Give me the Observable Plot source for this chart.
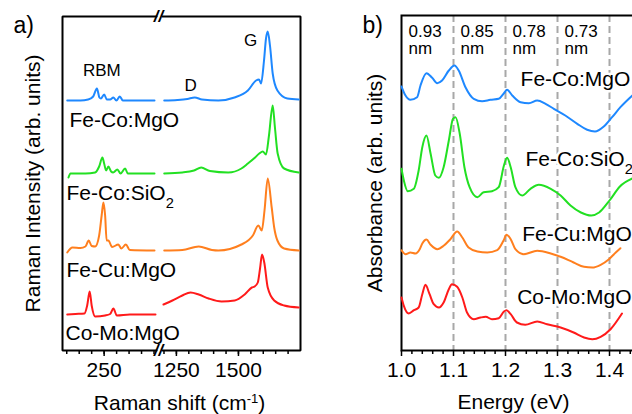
<!DOCTYPE html>
<html><head><meta charset="utf-8">
<script src="https://cdn.jsdelivr.net/npm/d3@7"></script>
<script src="https://cdn.jsdelivr.net/npm/@observablehq/plot@0.6"></script>
<style>
html,body{margin:0;padding:0;overflow:hidden;background:#fff;}
#wrap{position:relative;width:632px;height:414px;overflow:hidden;}
#wrap svg{position:absolute;top:0;}
</style></head><body><div id="wrap"></div>
<script>
// ---------- Panel a: Raman spectra (Raman shift cm-1, intensity arb. units) ----------
const ramanSamples = ["Fe-Co:MgO", "Fe-Co:SiO2", "Fe-Cu:MgO", "Co-Mo:MgO"];
const ramanLow = [
  [[102,250],[155,250],[186,251],[206,254],[221,262],[231,253],[237,252],[250,256],[261,251],[274,251],[287,253],[299,250],[313,254],[325,250],[353,250],[413,250],[452,250]],
  [[107,173],[115,177],[175,177],[214,178],[230,184],[243,193],[250,187],[258,180],[267,184],[278,179],[286,178],[303,181],[316,177],[334,182],[345,177],[393,177],[452,177]],
  [[102,98],[123,103],[155,102.5],[175,104],[188,110],[200,104.5],[214,104],[230,115],[240,135],[247,148],[254,135],[260,110],[267,110],[282,103.5],[307,106],[319,102],[337,106],[353,100.5],[452,100]],
  [[102,36],[135,36.5],[171,37],[182,45],[192,59],[200,45],[214,34],[254,35],[274,36.5],[287,42],[301,35],[353,36],[456,36]]
];
const ramanHigh = [
  [[1201,250],[1254,250.5],[1294,251.5],[1324,253],[1353,251],[1419,250],[1484,253],[1538,260],[1571,270],[1583,271],[1591,267],[1603,290],[1611,312],[1618,319],[1627,305],[1638,277],[1657,260],[1697,252],[1743,251]],
  [[1201,177],[1274,178],[1321,180],[1350,183],[1385,179.5],[1459,178],[1512,182],[1538,187],[1567,193],[1584,197],[1598,199],[1611,196],[1623,215],[1638,245],[1647,223],[1658,197],[1684,182],[1743,178]],
  [[1201,100],[1274,100.5],[1340,104],[1393,100.5],[1419,100],[1512,106],[1558,115],[1580,125],[1594,120],[1605,140],[1618,172],[1634,143],[1644,123],[1657,110],[1684,102],[1743,100]],
  [[1198,46],[1234,50],[1274,55],[1307,58],[1340,56],[1380,52],[1432,49],[1485,50],[1525,56],[1554,63],[1565,64],[1578,68],[1587,82],[1595,96],[1604,88],[1618,63],[1644,50],[1684,45],[1743,43]]
];
const ramanLowDomain = [83, 460];
const ramanHighDomain = [1194, 1750];
const ramanMinorTicks = [100,150,200,250,300,350,400,450,1200,1250,1300,1350,1400,1450,1500,1550,1600,1650,1700];
const ramanMajorTicks = [250, 1250, 1500];
const ramanPeakNames = ["RBM", "D", "G"];
const ramanPeakShift = [241, 1307, 1549];
const ramanPeakLevel = [280, 265, 310];
const ramanLabelShift = [111, 99, 99, 95];
const ramanLabelLevel = [230, 157, 80, 17];

// ---------- Panel b: absorbance spectra (energy eV, absorbance arb. units) ----------
const absSamples = ["Fe-Co:MgO", "Fe-Co:SiO2", "Fe-Cu:MgO", "Co-Mo:MgO"];
const absSpectra = [
  [[1.0,264],[1.0077,255],[1.017,250.7],[1.03,253.3],[1.0365,265],[1.048,277.3],[1.059,272.7],[1.0686,267.3],[1.078,270],[1.091,280],[1.102,285],[1.11,280],[1.123,263.3],[1.139,251.7],[1.155,249.3],[1.171,250.7],[1.187,251.7],[1.197,257.3],[1.203,260.7],[1.213,255],[1.229,248.3],[1.245,247.3],[1.261,250],[1.277,246.7],[1.293,241.7],[1.315,235],[1.338,226.7],[1.357,220.7],[1.372,219],[1.389,224],[1.405,233.3],[1.421,243.3],[1.444,255]],
  [[1.0,181.7],[1.0045,170],[1.012,159.3],[1.0237,161.7],[1.033,180],[1.04,203.3],[1.048,215],[1.056,196.7],[1.065,175],[1.072,172.7],[1.081,183.3],[1.091,210],[1.099,231.7],[1.104,233.3],[1.112,216.7],[1.121,183.3],[1.131,163.3],[1.146,153.3],[1.158,158.3],[1.174,159.3],[1.187,163.3],[1.197,185],[1.203,192.7],[1.21,183.3],[1.219,163.3],[1.232,155],[1.248,161.7],[1.264,165.7],[1.287,161.7],[1.306,155],[1.325,145],[1.345,138],[1.365,135],[1.38,138],[1.4,150],[1.42,164],[1.444,172]],
  [[1.0,100.3],[1.008,96.3],[1.017,98],[1.027,97],[1.035,101.3],[1.04,107],[1.048,111],[1.056,105.7],[1.069,101.3],[1.081,104.7],[1.094,111.3],[1.107,119],[1.117,113],[1.129,103],[1.146,99],[1.165,98],[1.184,100.3],[1.196,109.7],[1.202,115.7],[1.21,111.3],[1.219,101.3],[1.235,96.3],[1.261,99.7],[1.287,97],[1.306,93.7],[1.331,88],[1.351,83.7],[1.367,83],[1.383,85.7],[1.399,91.3],[1.412,98],[1.421,102.3]],
  [[1.0,53],[1.0045,44.7],[1.014,37],[1.024,40.3],[1.033,43],[1.04,56.3],[1.046,65.7],[1.054,56.3],[1.062,46.3],[1.072,43],[1.081,48],[1.091,61.3],[1.097,66.3],[1.107,63.7],[1.117,53],[1.126,38],[1.139,31.3],[1.152,33],[1.162,33.7],[1.174,31.3],[1.187,32.3],[1.197,39],[1.202,40.3],[1.21,36.3],[1.222,28],[1.238,25.7],[1.261,29],[1.28,26.3],[1.306,23],[1.331,18],[1.351,13],[1.367,11.3],[1.383,13.7],[1.402,21.3],[1.424,37]]
];
const energyDomain = [1.0, 1.45];
const energyMajorTicks = [1.0, 1.1, 1.2, 1.3, 1.4];
const energyMinorTicks = [1.02,1.04,1.06,1.08,1.12,1.14,1.16,1.18,1.22,1.24,1.26,1.28,1.32,1.34,1.36,1.38,1.42,1.44];
const diameterLines = [1.0, 1.1, 1.2, 1.3];
const diameterValues = ["0.93", "0.85", "0.78", "0.73"];
const dashedEnergies = [1.1, 1.2, 1.3, 1.4];
const absLabelEnergy = [1.229, 1.2385, 1.232, 1.2225];
const absLabelLevel = [271, 191, 116, 53];

const colors = ["#1e88ff", "#22e022", "#ff7f1e", "#ff1a1a"];
const FONT = "'Liberation Sans', Arial, Helvetica, sans-serif";
const wrap = document.getElementById("wrap");
const svgNS = "http://www.w3.org/2000/svg";

function rich(svg) {
  svg.querySelectorAll("text").forEach(t => {
    const s = t.textContent;
    let parts = null;
    if (s === "Raman shift (cm-1)") parts = [["Raman shift (cm"], ["-1", "super", "0.62em"], [")"]];
    if (s === "Fe-Co:SiO2") parts = [["Fe-Co:SiO"], ["2", "sub", "0.7em"]];
    if (!parts) return;
    while (t.firstChild) t.removeChild(t.firstChild);
    parts.forEach(([str, shift, size]) => {
      if (!shift) { t.appendChild(document.createTextNode(str)); return; }
      const ts = document.createElementNS(svgNS, "tspan");
      ts.setAttribute("baseline-shift", shift);
      ts.setAttribute("font-size", size);
      ts.textContent = str;
      t.appendChild(ts);
    });
  });
}

// ----- Panel a -----
const gapMid = (ramanLowDomain[1] + ramanHighDomain[0]) / 2;
const yTopA = 334;
const frameLow = [[ramanLowDomain[1], yTopA], [ramanLowDomain[0], yTopA], [ramanLowDomain[0], 0], [ramanLowDomain[1], 0]];
const frameHigh = [[ramanHighDomain[0], yTopA], [ramanHighDomain[1], yTopA], [ramanHighDomain[1], 0], [ramanHighDomain[0], 0]];
const plotA = Plot.plot({
  width: 320, height: 414,
  marginLeft: 62, marginRight: 20, marginTop: 16, marginBottom: 64,
  style: {fontFamily: FONT, fontSize: "21px", color: "#000", background: "transparent", overflow: "visible"},
  x: {type: "linear", domain: [...ramanLowDomain, ...ramanHighDomain], range: [62, 156, 162, 300]},
  y: {domain: [0, yTopA], axis: null},
  marks: [
    Plot.axisX({ticks: ramanMinorTicks, tickSize: 4, tickFormat: () => "", strokeWidth: 1.5, label: null}),
    Plot.axisX({ticks: ramanMajorTicks, tickSize: 6, tickPadding: 6, fontSize: 21, strokeWidth: 1.5, label: null, tickFormat: d3.format("d")}),
    Plot.line(frameLow, {stroke: "black", strokeWidth: 2, strokeLinejoin: "miter"}),
    Plot.line(frameHigh, {stroke: "black", strokeWidth: 2, strokeLinejoin: "miter"}),
    Plot.text([0, yTopA], {x: () => gapMid, y: d => d, text: () => "//", fontSize: 17, fontWeight: "bold", fontStyle: "italic", fill: "black", dx: -1}),
    ramanSamples.map((name, i) => [
      Plot.line(ramanLow[i], {stroke: colors[i], strokeWidth: 2, curve: "monotone-x"}),
      Plot.line(ramanHigh[i], {stroke: colors[i], strokeWidth: 2, curve: "monotone-x"})
    ]),
    Plot.text(ramanSamples, {x: (d, i) => ramanLabelShift[i], y: (d, i) => ramanLabelLevel[i], text: d => d, textAnchor: "start", fontSize: 21}),
    Plot.text(ramanPeakNames, {x: (d, i) => ramanPeakShift[i], y: (d, i) => ramanPeakLevel[i], text: d => d, fontSize: 17}),
    Plot.text(["Raman Intensity (arb. units)"], {frameAnchor: "left", dx: -29, rotate: -90, textAnchor: "middle", lineAnchor: "middle", fontSize: 21}),
    Plot.text(["Raman shift (cm-1)"], {frameAnchor: "bottom", dx: -2, dy: 53, textAnchor: "middle", lineAnchor: "middle", fontSize: 21}),
    Plot.text(["a)"], {frameAnchor: "top-left", dx: -49, dy: 9, textAnchor: "start", lineAnchor: "middle", fontSize: 23})
  ]
});
plotA.style.left = "0px";
rich(plotA);
wrap.appendChild(plotA);

// ----- Panel b -----
const plotB = Plot.plot({
  width: 320, height: 414,
  marginLeft: 81, marginRight: 5, marginTop: 15, marginBottom: 64,
  style: {fontFamily: FONT, fontSize: "21px", color: "#000", background: "transparent"},
  x: {domain: energyDomain},
  y: {domain: [0, 335], axis: null},
  marks: [
    Plot.ruleX(dashedEnergies, {stroke: "#a8a8a8", strokeWidth: 2, strokeDasharray: "7,4"}),
    Plot.frame({strokeWidth: 2}),
    Plot.axisX({ticks: energyMinorTicks, tickSize: 4, tickFormat: () => "", strokeWidth: 1.5, label: null}),
    Plot.axisX({ticks: energyMajorTicks, tickSize: 6, tickPadding: 6, fontSize: 21, strokeWidth: 1.5, label: null, tickFormat: d3.format(".1f")}),
    absSamples.map((name, i) => Plot.line(absSpectra[i], {stroke: colors[i], strokeWidth: 2, curve: "monotone-x"})),
    Plot.text(diameterValues, {x: (d, i) => diameterLines[i], y: () => 310, text: d => d + "\nnm", dx: 7, textAnchor: "start", lineAnchor: "middle", lineHeight: 1, fontSize: 17}),
    Plot.text(absSamples, {x: (d, i) => absLabelEnergy[i], y: (d, i) => absLabelLevel[i], text: d => d, textAnchor: "start", fontSize: 21, stroke: "white", strokeWidth: 5, fill: "black"}),
    Plot.text(["Absorbance (arb. units)"], {frameAnchor: "left", dx: -26, rotate: -90, textAnchor: "middle", lineAnchor: "middle", fontSize: 21}),
    Plot.text(["Energy (eV)"], {frameAnchor: "bottom", dx: -5, dy: 52, textAnchor: "middle", lineAnchor: "middle", fontSize: 21}),
    Plot.text(["b)"], {frameAnchor: "top-left", dx: -39, dy: 10, textAnchor: "start", lineAnchor: "middle", fontSize: 23})
  ]
});
plotB.style.left = "320px";
rich(plotB);
wrap.appendChild(plotB);
</script></body></html>
